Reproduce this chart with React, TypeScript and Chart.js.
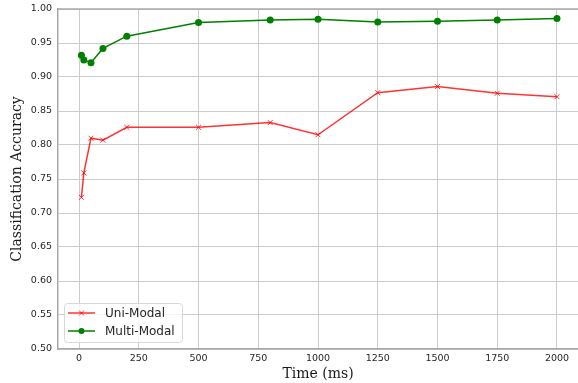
import React, { useEffect, useRef } from "react";
import { Chart, registerables } from "chart.js";

Chart.register(...registerables);

const timesMs = [10, 20, 50, 100, 200, 500, 800, 1000, 1250, 1500, 1750, 2000];
const uniModal = [0.723, 0.759, 0.810, 0.807, 0.826, 0.826, 0.833, 0.815, 0.877, 0.886, 0.876, 0.871];
const multiModal = [0.932, 0.925, 0.921, 0.942, 0.960, 0.980, 0.984, 0.985, 0.981, 0.982, 0.984, 0.986];
const xTickValues = [0, 250, 500, 750, 1000, 1250, 1500, 1750, 2000];
const yTickValues = [0.5, 0.55, 0.6, 0.65, 0.7, 0.75, 0.8, 0.85, 0.9, 0.95, 1.0];

const RED = "rgba(255,0,0,0.8)";
const GREEN = "#008000";
const TICK_FONT = { family: "'DejaVu Sans'", size: 9.5 };
const TITLE_FONT = { family: "'DejaVu Serif'", size: 14 };

const framePlugin = {
  id: "frame",
  afterDraw(chart: any) {
    const { ctx, chartArea } = chart;
    ctx.save();
    ctx.strokeStyle = "#a8a8a8";
    ctx.lineWidth = 1.5;
    ctx.beginPath();
    ctx.moveTo(chartArea.left, chartArea.top);
    ctx.lineTo(chartArea.right, chartArea.top);
    ctx.stroke();
    // legend
    const bx = 64, by = 303, bw = 118, bh = 39;
    ctx.fillStyle = "rgba(255,255,255,0.8)";
    ctx.strokeStyle = "#d8d8d8";
    ctx.lineWidth = 1;
    ctx.beginPath();
    (ctx as any).roundRect(bx + 0.5, by + 0.5, bw, bh, 3);
    ctx.fill();
    ctx.stroke();
    const items = [
      { label: chart.data.datasets[0].label, color: RED, style: "cross", y: 313 },
      { label: chart.data.datasets[1].label, color: GREEN, style: "circle", y: 331 },
    ];
    ctx.font = "12px 'DejaVu Sans'";
    ctx.textBaseline = "middle";
    for (const it of items) {
      ctx.strokeStyle = it.color;
      ctx.lineWidth = 1.5;
      ctx.beginPath();
      ctx.moveTo(68, it.y);
      ctx.lineTo(95, it.y);
      ctx.stroke();
      const cx = 81.5;
      if (it.style === "cross") {
        ctx.lineWidth = 1;
        ctx.beginPath();
        ctx.moveTo(cx - 2.5, it.y - 2.5);
        ctx.lineTo(cx + 2.5, it.y + 2.5);
        ctx.moveTo(cx - 2.5, it.y + 2.5);
        ctx.lineTo(cx + 2.5, it.y - 2.5);
        ctx.stroke();
      } else {
        ctx.fillStyle = it.color;
        ctx.beginPath();
        ctx.arc(cx, it.y, 3, 0, Math.PI * 2);
        ctx.fill();
      }
      ctx.fillStyle = "#262626";
      ctx.fillText(it.label, 105, it.y + 0.5);
    }
    ctx.restore();
  },
};

export default function App() {
  const ref = useRef<HTMLCanvasElement | null>(null);
  useEffect(() => {
    document.body.style.margin = "0";
    const canvas = ref.current!;
    const chart = new Chart(canvas, {
      type: "line",
      data: {
        datasets: [
          {
            label: "Uni-Modal",
            data: timesMs.map((t, i) => ({ x: t, y: uniModal[i] })),
            borderColor: RED,
            backgroundColor: RED,
            borderWidth: 1.5,
            pointStyle: "crossRot",
            pointRadius: 3.5,
            pointBorderWidth: 1,
            pointBorderColor: RED,
            tension: 0,
          },
          {
            label: "Multi-Modal",
            data: timesMs.map((t, i) => ({ x: t, y: multiModal[i] })),
            borderColor: GREEN,
            backgroundColor: GREEN,
            borderWidth: 1.5,
            pointStyle: "circle",
            pointRadius: 3.5,
            pointBorderWidth: 0,
            tension: 0,
          },
        ],
      },
      options: {
        animation: false,
        responsive: false,
        devicePixelRatio: 1,
        layout: { autoPadding: false, padding: { top: 9, right: 0, left: 0, bottom: 0 } },
        plugins: { legend: { display: false }, tooltip: { enabled: false } },
        scales: {
          x: {
            type: "linear",
            min: -88,
            max: 2088,
            afterBuildTicks: (s: any) => {
              s.ticks = xTickValues.map((v) => ({ value: v }));
            },
            afterFit: (s: any) => {
              s.height = 34;
              s.paddingLeft = 0;
              s.paddingRight = 0;
            },
            ticks: {
              font: TICK_FONT,
              color: "#262626",
              padding: 4,
              maxRotation: 0,
              autoSkip: false,
              callback: (v: any) => String(v),
            },
            grid: { color: "#cccccc", lineWidth: 1, drawTicks: false },
            border: { display: true, color: "#a8a8a8", width: 1.5 },
            title: {
              display: true,
              text: "Time (ms)",
              font: TITLE_FONT,
              color: "#1a1a1a",
              padding: 0,
            },
          },
          y: {
            type: "linear",
            min: 0.5,
            max: 1.0,
            afterBuildTicks: (s: any) => {
              s.ticks = yTickValues.map((v) => ({ value: v }));
            },
            afterFit: (s: any) => {
              s.width = 58;
              s.paddingTop = 0;
              s.paddingBottom = 0;
            },
            ticks: {
              font: TICK_FONT,
              color: "#262626",
              padding: 6,
              autoSkip: false,
              callback: (v: any) => Number(v).toFixed(2),
            },
            grid: { color: "#cccccc", lineWidth: 1, drawTicks: false },
            border: { display: true, color: "#a8a8a8", width: 1.5 },
            title: {
              display: true,
              text: "Classification Accuracy",
              font: TITLE_FONT,
              color: "#1a1a1a",
              padding: { top: 9, bottom: 0 },
            },
          },
        },
      } as any,
      plugins: [framePlugin],
    });
    return () => chart.destroy();
  }, []);
  return (
    <div style={{ width: 578, height: 383 }}>
      <canvas ref={ref} width={578} height={383} style={{ display: "block" }} />
    </div>
  );
}
